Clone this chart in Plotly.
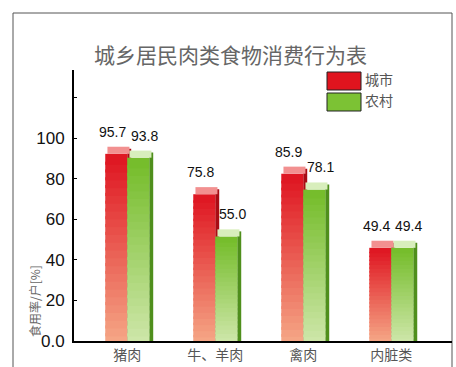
import plotly.graph_objects as go

categories = ["猪肉", "牛、羊肉", "禽肉", "内脏类"]
city = [95.7, 75.8, 85.9, 49.4]
rural = [93.8, 55.0, 78.1, 49.4]
series_names = ["城市", "农村"]
ytick_vals = [0, 20, 40, 60, 80, 100, 120]
ytick_text = ["0.0", "20", "40", "60", "80", "100", ""]

W, H = 456, 367
def fx(px): return px / W
def fy(py): return 1 - py / H

def lerp(c1, c2, t):
    a = [int(c1[i:i+2], 16) for i in (1, 3, 5)]
    b = [int(c2[i:i+2], 16) for i in (1, 3, 5)]
    return "rgb(%d,%d,%d)" % tuple(round(a[j] + (b[j] - a[j]) * t) for j in range(3))

fig = go.Figure()
N = 24
CAP = 3.5
styles = [
    # name, values, offset, bottom colour, top colour, side colour, cap colour
    (series_names[0], city, -0.25, "#f5a585", "#df1823", "#a80c14", "#f29090"),
    (series_names[1], rural, 0.0, "#cde6a8", "#76bd2c", "#4f8f1c", "#d8eebc"),
]
for name, vals, off, cb, ct, cs, cc in styles:
    # side face
    fig.add_trace(go.Bar(x=categories, y=[v - 1.0 for v in vals], offset=off + 0.25, width=0.045,
                         marker=dict(color=cs, line=dict(width=0)), hoverinfo="skip", showlegend=False))
    for k in range(N):
        col = lerp(cb, ct, k / (N - 1))
        steps = [(v - CAP) / N for v in vals]
        bases = [s * k - (0.4 * s if k > 0 else 0) for s in steps]
        heights = [s * (1.4 if k > 0 else 1.0) for s in steps]
        fig.add_trace(go.Bar(
            x=categories, y=heights, base=bases,
            offset=off, width=0.25,
            marker=dict(color=col, line=dict(width=0)),
            hoverinfo="skip", showlegend=False))
    fig.add_trace(go.Bar(x=categories, y=[CAP] * len(vals), base=[v - CAP for v in vals],
                         offset=off + 0.025, width=0.25,
                         marker=dict(color=cc, line=dict(width=0)), hoverinfo="skip", showlegend=False))

annotations = []
for vals, xs in ((city, -15), (rural, 17)):
    for c, v in zip(categories, vals):
        annotations.append(dict(x=c, y=v, xref="x", yref="y", text="%.1f" % v, showarrow=False,
                                xshift=xs, yshift=15, yanchor="middle", xanchor="center",
                                font=dict(family="Liberation Sans, Arial", size=14, color="#111")))

annotations += [
    dict(x=fx(231), y=fy(54), xref="paper", yref="paper", text="城乡居民肉类食物消费行为表",
         showarrow=False, xanchor="center", yanchor="middle",
         font=dict(family="Noto Sans CJK SC", size=21, color="#666")),
    dict(x=fx(34), y=fy(301), xref="paper", yref="paper", text="食用率/户[%]", textangle=-90,
         showarrow=False, xanchor="center", yanchor="middle",
         font=dict(family="Noto Sans CJK SC", size=12, color="#666")),
    dict(x=fx(363), y=fy(79), xref="paper", yref="paper", text=series_names[0], xanchor="left",
         yanchor="middle", showarrow=False,
         font=dict(family="Noto Sans CJK SC", size=14, color="#555")),
    dict(x=fx(363), y=fy(100), xref="paper", yref="paper", text=series_names[1], xanchor="left",
         yanchor="middle", showarrow=False,
         font=dict(family="Noto Sans CJK SC", size=14, color="#555")),
]

shapes = [
    dict(type="rect", xref="paper", yref="paper", x0=fx(13), x1=fx(452), y0=-0.1, y1=fy(13),
         line=dict(color="#555", width=1), fillcolor="rgba(0,0,0,0)", layer="below"),
    dict(type="rect", xref="paper", yref="paper", x0=fx(327), x1=fx(361), y0=fy(90), y1=fy(72),
         line=dict(color="#222", width=1), fillcolor="#e0141e"),
    dict(type="rect", xref="paper", yref="paper", x0=fx(327), x1=fx(361), y0=fy(111), y1=fy(93),
         line=dict(color="#222", width=1), fillcolor="#7cc234"),
]

fig.update_layout(
    width=W, height=H, margin=dict(l=0, r=0, t=0, b=0),
    paper_bgcolor="white", plot_bgcolor="white",
    barmode="overlay", showlegend=False,
    annotations=annotations, shapes=shapes,
    xaxis=dict(domain=[fx(74), fx(452)], range=[-0.605, 3.69], showline=True, linecolor="#000",
               linewidth=2, ticks="", showgrid=False, zeroline=False, automargin=False,
               tickfont=dict(family="Noto Sans CJK SC", size=14, color="#555")),
    yaxis=dict(domain=[fy(341), fy(70)], range=[0, 133.5], showline=True, linecolor="#000",
               linewidth=2, ticks="inside", ticklen=3, tickcolor="#000", showgrid=False,
               zeroline=False, tickvals=ytick_vals, ticktext=ytick_text, ticklabelstandoff=4,
               automargin=False,
               tickfont=dict(family="Liberation Sans, Arial", size=17, color="#111")),
)
fig.write_html("out.html", config={"displayModeBar": False},
               post_script="document.body.style.margin='0';document.body.style.padding='0';"
                           "document.documentElement.style.overflow='hidden';")
